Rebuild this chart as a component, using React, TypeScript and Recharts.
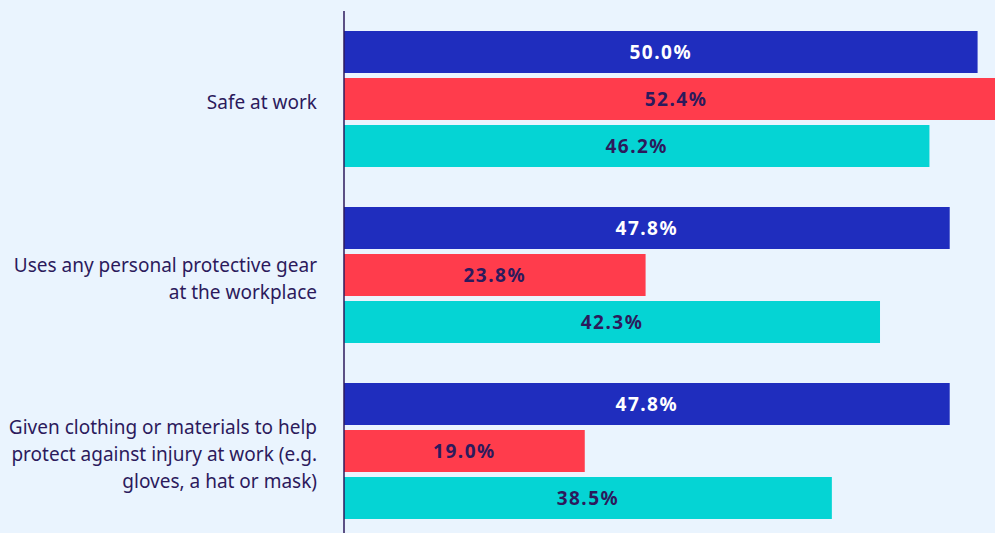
import React from 'react';
import { BarChart, Bar, XAxis, YAxis, LabelList } from 'recharts';

const categories = [
  'Safe at work',
  'Uses any personal protective gear at the workplace',
  'Given clothing or materials to help protect against injury at work (e.g. gloves, a hat or mask)',
];
const seriesA = [50.0, 47.8, 47.8];
const seriesB = [52.4, 23.8, 19.0];
const seriesC = [46.2, 42.3, 38.5];

const data = categories.map((category, i) => ({
  category,
  a: seriesA[i],
  b: seriesB[i],
  c: seriesC[i],
}));

const BG = '#EAF4FE';
const TEXT = '#2C1A5C';
const BLUE = '#1F2DBE';
const RED = '#FF3C4C';
const CYAN = '#05D4D4';
const FONT = '"Noto Sans", sans-serif';
const TICK_SIZE = 19;
const LINE_H = 27;
const WRAP_W = 314;

let ctx: CanvasRenderingContext2D | null = null;
function measure(s: string): number {
  if (!ctx && typeof document !== 'undefined') {
    ctx = document.createElement('canvas').getContext('2d');
  }
  if (!ctx) return s.length * TICK_SIZE * 0.52;
  ctx.font = `${TICK_SIZE}px "Noto Sans"`;
  return ctx.measureText(s).width;
}

function wrap(text: string): string[] {
  const words = text.split(' ');
  const lines: string[] = [];
  let cur = '';
  for (const w of words) {
    const t = cur ? cur + ' ' + w : w;
    if (cur && measure(t) > WRAP_W) {
      lines.push(cur);
      cur = w;
    } else {
      cur = t;
    }
  }
  if (cur) lines.push(cur);
  return lines;
}

const CategoryTick = (props: any) => {
  const { x, y, payload } = props;
  const lines = wrap(String(payload.value));
  const n = lines.length;
  return (
    <text x={x} y={y} textAnchor="end" fill={TEXT} fontSize={TICK_SIZE} fontFamily={FONT}>
      {lines.map((l, i) => (
        <tspan key={i} x={x} y={y + 10 + (i - (n - 1) / 2) * LINE_H}>
          {l}
        </tspan>
      ))}
    </text>
  );
};

const fmt = (v: any) => `${Number(v).toFixed(1)}%`;

const labelStyle = {
  fontFamily: FONT,
  fontSize: 19,
  fontWeight: 700,
  letterSpacing: 1.5,
};

export default function App() {
  return (
    <div style={{ width: 995, height: 533, overflow: 'hidden', background: BG, position: 'relative' }}>
      <style>{`body{margin:0;background:${BG};}`}</style>
      <BarChart
        width={1008}
        height={539}
        data={data}
        layout="vertical"
        margin={{ top: 11, right: 0, bottom: 0, left: 0 }}
        barCategoryGap={20}
        barGap={5}
      >
        <XAxis type="number" hide domain={[0, 'dataMax']} />
        <YAxis
          type="category"
          dataKey="category"
          width={344}
          axisLine={{ stroke: TEXT, strokeWidth: 1.5 }}
          tickLine={false}
          tickSize={0}
          tickMargin={27}
          tick={<CategoryTick />}
          interval={0}
        />
        <Bar dataKey="a" fill={BLUE} isAnimationActive={false}>
          <LabelList dataKey="a" position="center" formatter={fmt} fill="#FFFFFF" {...labelStyle} />
        </Bar>
        <Bar dataKey="b" fill={RED} isAnimationActive={false}>
          <LabelList dataKey="b" position="center" formatter={fmt} fill={TEXT} {...labelStyle} />
        </Bar>
        <Bar dataKey="c" fill={CYAN} isAnimationActive={false}>
          <LabelList dataKey="c" position="center" formatter={fmt} fill={TEXT} {...labelStyle} />
        </Bar>
      </BarChart>
    </div>
  );
}
